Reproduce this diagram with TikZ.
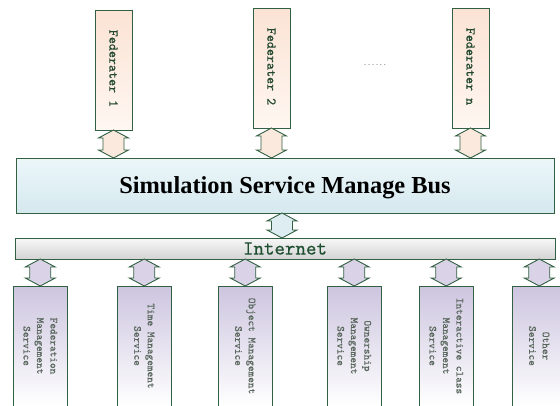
\documentclass[tikz,border=0pt]{standalone}
\usepackage{fontspec}
\setmainfont{Liberation Serif}
\usetikzlibrary{calc}

\definecolor{edgegreen}{RGB}{50,96,66}
\definecolor{fedtop}{RGB}{251,227,212}
\definecolor{fedbot}{RGB}{255,247,242}
\definecolor{fedarrow}{RGB}{251,233,221}
\definecolor{bustop}{RGB}{236,246,249}
\definecolor{busbot}{RGB}{213,233,239}
\definecolor{busarrow}{RGB}{221,237,241}
\definecolor{nettop}{RGB}{247,247,247}
\definecolor{netbot}{RGB}{212,212,212}
\definecolor{svctop}{RGB}{205,197,223}
\definecolor{svcbot}{RGB}{255,255,255}
\definecolor{svcarrow}{RGB}{218,211,231}
\definecolor{fedtext}{RGB}{34,72,48}
\definecolor{svctext}{RGB}{88,102,92}
\definecolor{nettext}{RGB}{30,78,48}

% slightly thickened typewriter faces
\newfontfamily\fedfam[FakeBold=0.4]{lmmono10-regular.otf}
\newfontfamily\svcfam[FakeBold=0.4]{lmmono10-regular.otf}
\newfontfamily\netfam[FakeBold=0.4]{lmmono10-regular.otf}
\newcommand\fedfont{\fedfam\fontsize{13.4}{16}\selectfont}
\newcommand\svcfont{\svcfam\fontsize{10.8}{13.5}\selectfont}
\newcommand\netfont{\netfam\fontsize{20}{22}\selectfont}
\newcommand\dotfont{\ttfamily\fontsize{7.5}{8}\selectfont}

\tikzset{
  box/.style={draw=edgegreen, line width=0.9pt, inner sep=0pt, outer sep=0pt,
              anchor=north west},
  fedbox/.style={box, top color=fedtop, bottom color=fedbot,
                 minimum width=37pt, minimum height=120pt},
  svcbox/.style={box, top color=svctop, bottom color=svcbot,
                 minimum width=54.5pt, minimum height=120pt},
  fedlabel/.style={rotate=-90, inner sep=0pt, text=fedtext, font=\fedfont},
  svclabel/.style={rotate=-90, inner sep=0pt, align=center, text=svctext,
                   font=\svcfont},
  twowayline/.style={draw=edgegreen, line width=0.9pt, line join=miter},
}

% Vertical two-headed block arrow from point #1 (upper) down to point #2,
% filled with colour #3: heads 30pt wide and 8pt long, shaft 21pt wide.
\newcommand\twoway[3]{%
  \path[twowayline, fill=#3] let \p1=(#1), \p2=(#2) in
    (\x1,\y1) -- (\x1+15pt,\y1-8pt) -- (\x1+10.5pt,\y1-8pt)
    -- (\x1+10.5pt,\y2+8pt) -- (\x1+15pt,\y2+8pt) -- (\x1,\y2)
    -- (\x1-15pt,\y2+8pt) -- (\x1-10.5pt,\y2+8pt)
    -- (\x1-10.5pt,\y1-8pt) -- (\x1-15pt,\y1-8pt) -- cycle;}

\begin{document}
\begin{tikzpicture}[x=1pt, y=-1pt]
\useasboundingbox (0,0) rectangle (560,405);
\clip (0,0) rectangle (560,405);

% federates
\node[fedbox] (f1) at (95,10)  {};
\node[fedbox] (f2) at (253,8)  {};
\node[fedbox] (fn) at (452,8)  {};
\node[fedlabel] (f1t) at ($(f1.center)+(0,-1.5)$) {Federater 1};
\node[fedlabel] (f2t) at ($(f2.center)+(0,-1.5)$) {Federater 2};
\node[fedlabel] (fnt) at ($(fn.center)+(0,-1.5)$) {Federater n};
\node[inner sep=0pt, text=black!70, font=\dotfont] (dots) at (375,65) {......};

% service bus
\node[box, top color=bustop, bottom color=busbot,
      minimum width=538pt, minimum height=55pt,
      font=\bfseries\fontsize{24.4}{28}\selectfont, text depth=0pt]
  (bus) at (16,158) {Simulation Service Manage Bus};

% internet bar
\node[box, top color=nettop, bottom color=netbot,
      minimum width=540pt, minimum height=21pt, text=nettext, font=\netfont]
  (net) at (15,238) {Internet};

% services
\node[svcbox] (s1) at (13,286)  {};
\node[svcbox] (s2) at (117,286) {};
\node[svcbox] (s3) at (218,286) {};
\node[svcbox] (s4) at (327,286) {};
\node[svcbox] (s5) at (419,286) {};
\node[svcbox] (s6) at (512,286) {};
\node[svclabel] (s1t) at (s1.center) {Federation\\Management\\Service};
\node[svclabel] (s2t) at (s2.center) {Time Management\\Service};
\node[svclabel] (s3t) at (s3.center) {Object Management\\Service};
\node[svclabel] (s4t) at (s4.center) {Ownership\\Management\\Service};
\node[svclabel] (s5t) at (s5.center) {Interactive class\\Management\\Service};
\node[svclabel] (s6t) at (s6.center) {Other\\Service};

% federates <-> bus
\twoway{f1.south}{f1.south|-bus.north}{fedarrow}
\twoway{f2.south}{f2.south|-bus.north}{fedarrow}
\twoway{fn.south}{fn.south|-bus.north}{fedarrow}

% bus <-> internet
\coordinate (busport) at (282,0);
\twoway{busport|-bus.south}{busport|-net.north}{busarrow}

% internet <-> services
\foreach \s in {s1,s2,s3,s4,s5,s6}{
  \twoway{\s.north|-net.south}{\s.north}{svcarrow}
}
\end{tikzpicture}
\end{document}
